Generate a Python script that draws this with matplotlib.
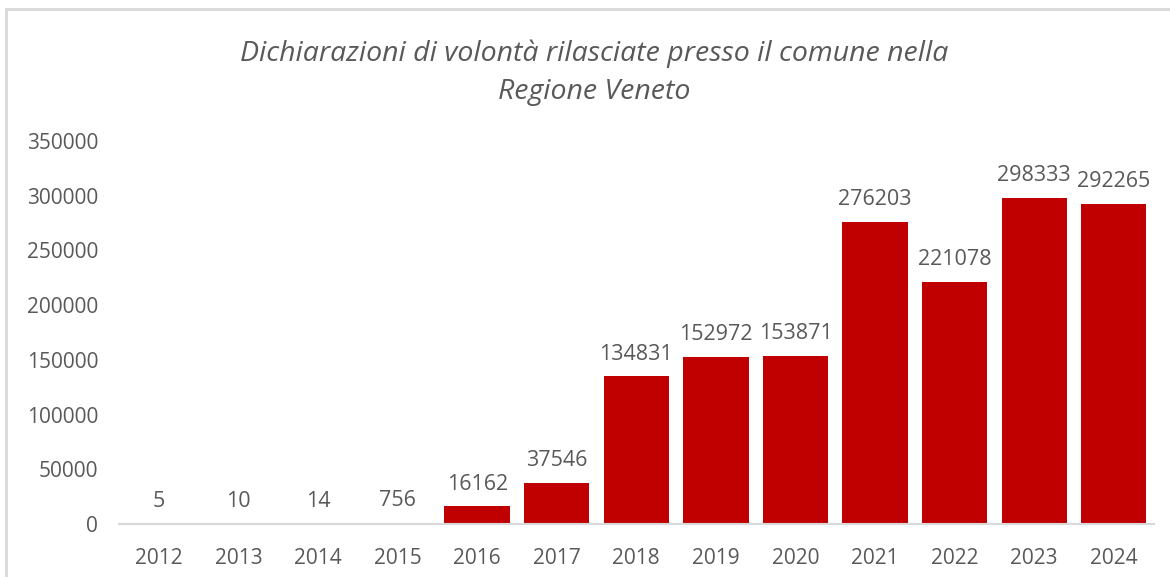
import matplotlib.pyplot as plt
from matplotlib.patches import Rectangle

# dati
anni = ["2012", "2013", "2014", "2015", "2016", "2017", "2018",
        "2019", "2020", "2021", "2022", "2023", "2024"]
dichiarazioni = [5, 10, 14, 756, 16162, 37546, 134831,
                 152972, 153871, 276203, 221078, 298333, 292265]
titolo = "Dichiarazioni di volontà rilasciate presso il comune nella\nRegione Veneto"

plt.rcParams['font.family'] = ['Open Sans', 'DejaVu Sans']
grigio = "#595959"

fig = plt.figure(figsize=(11.7, 5.77), dpi=100)
ax = fig.add_axes([0.1017, 0.0919, 0.8843, 0.6637])

# cornice del grafico
fig.patches.append(Rectangle((6/1170, -0.1), 1.2, 1 - 9/577 + 0.1,
                             transform=fig.transFigure, fill=False,
                             edgecolor="#D9D9D9", linewidth=2))

x = range(len(anni))
bars = ax.bar(x, dichiarazioni, width=0.82, color="#C00000")
for xi, v in zip(x, dichiarazioni):
    ax.annotate(str(v), (xi, v), xytext=(0, 16), textcoords="offset points",
                ha="center", va="center", fontsize=15.5, color=grigio)

ax.set_xlim(-0.5, len(anni) - 0.5)
ax.set_ylim(0, 350000)
ax.set_yticks(range(0, 350001, 50000))
ax.set_yticklabels([str(t) for t in range(0, 350001, 50000)])
ax.set_xticks(list(x))
ax.set_xticklabels(anni)
ax.tick_params(length=0, labelsize=15, colors=grigio)
ax.tick_params(axis="y", pad=15)
ax.tick_params(axis="x", pad=17)

for s in ["top", "right", "left"]:
    ax.spines[s].set_visible(False)
ax.spines["bottom"].set_color("#D9D9D9")
ax.spines["bottom"].set_linewidth(1.5)

fig.text(0.508, 0.874, titolo, ha="center", va="center", fontsize=20.5,
         style="italic", color=grigio, linespacing=1.45)

fig.savefig("out.png", dpi=100)
